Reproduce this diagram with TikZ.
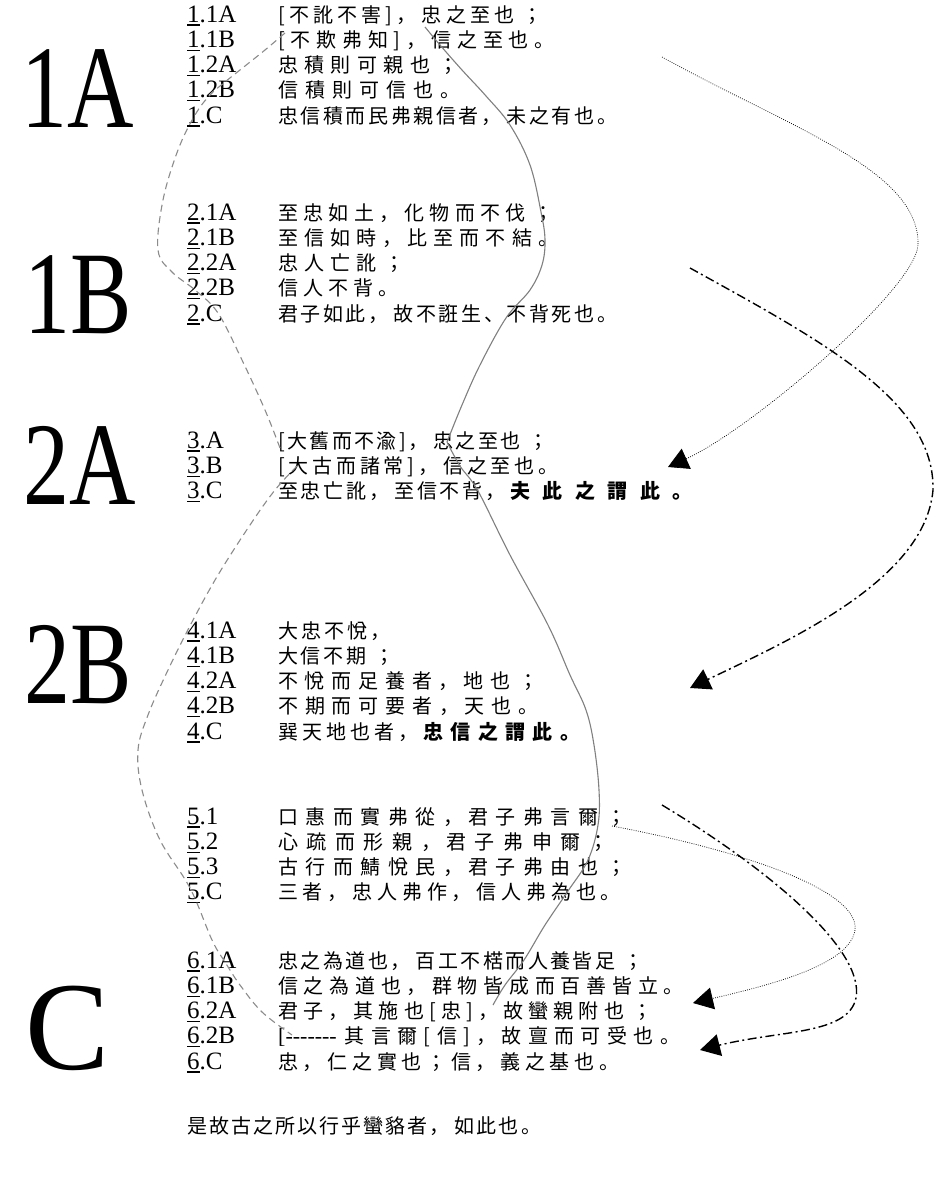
\documentclass[tikz,border=0pt]{standalone}
\usepackage{fontspec}
\setmainfont{Liberation Serif}
\newfontfamily\cjk{Noto Sans CJK JP}
\usetikzlibrary{arrows.meta}
\newcommand\unum[1]{\sbox0{#1}\rlap{\rule[-3.5pt]{\wd0}{1.3pt}}\usebox0}
\newcommand\hl[2]{{\bfseries\addfontfeatures{LetterSpace=#1}#2}}
\newcommand\cm{，\hspace{5pt}}
\newcommand\sm{\hspace{8pt}；}
\begin{document}
\begin{tikzpicture}[x=1pt,y=1pt,
  lab/.style={anchor=base west, inner sep=0pt, font=\fontsize{25}{27}\selectfont},
  txt/.style={anchor=base west, inner sep=0pt, font={\cjk\fontsize{20}{22}\selectfont\addfontfeatures{LetterSpace=#1}}},
  big/.style={inner sep=0pt, font=\fontsize{118}{118}\selectfont},
  solidg/.style={draw=black!50, line width=1.1pt},
  dashg/.style={draw=black!45, line width=1.1pt, dash pattern=on 7pt off 4.5pt},
  dotarr/.style={line width=0.7pt, dash pattern=on 0.8pt off 1.4pt, -{Triangle[length=20pt,width=22pt]}},
  dasharr/.style={line width=1.4pt, dash pattern=on 9pt off 3.5pt on 2pt off 3.5pt, -{Triangle[length=20pt,width=22pt]}}]
\fill[white] (0,0) rectangle (934,-1186);
\useasboundingbox (0,0) rectangle (934,-1186);

% big section labels
\node[big] (b1a) at (78,-89) {\scalebox{0.78}[1]{1A}};
\node[big] (b1b) at (78,-295) {\scalebox{0.78}[1]{1B}};
\node[big] (b2a) at (80,-465) {\scalebox{0.78}[1]{2A}};
\node[big] (b2b) at (78,-665) {\scalebox{0.78}[1]{2B}};
\node[big, font=\fontsize{126}{126}\selectfont] (bc) at (68,-1028) {C};

% group 1
\node[lab] (l11a) at (187,-22) {\unum{1}.1A};
\node[txt=21] (t11a) at (278,-22) {[不訛不害]\cm 忠之至也\sm};
\node[lab] (l11b) at (187,-47.3) {\unum{1}.1B};
\node[txt=29] (t11b) at (278,-47.3) {[不欺弗知]\cm 信之至也。};
\node[lab] (l12a) at (187,-72.6) {\unum{1}.2A};
\node[txt=32] (t12a) at (278,-72.6) {忠積則可親也\sm};
\node[lab] (l12b) at (187,-97.9) {\unum{1}.2B};
\node[txt=35] (t12b) at (278,-97.9) {信積則可信也。};
\node[lab] (l1c) at (187,-123.2) {\unum{1}.C};
\node[txt=13] (t1c) at (278,-123.2) {忠信積而民弗親信者\cm 未之有也。};

% group 2
\node[lab] (l21a) at (187,-220) {\unum{2}.1A};
\node[txt=26.6] (t21a) at (278,-220) {至忠如土\cm 化物而不伐\sm};
\node[lab] (l21b) at (187,-245.3) {\unum{2}.1B};
\node[txt=30.5] (t21b) at (278,-245.3) {至信如時\cm 比至而不結。};
\node[lab] (l22a) at (187,-270.6) {\unum{2}.2A};
\node[txt=30] (t22a) at (278,-270.6) {忠人亡訛\sm};
\node[lab] (l22b) at (187,-295.9) {\unum{2}.2B};
\node[txt=25] (t22b) at (278,-295.9) {信人不背。};
\node[lab] (l2c) at (187,-321.2) {\unum{2}.C};
\node[txt=13] (t2c) at (278,-321.2) {君子如此\cm 故不誑生、不背死也。};

% group 3
\node[lab] (l3a) at (187,-448) {\unum{3}.A};
\node[txt=12] (t3a) at (278,-448) {[大舊而不渝]\cm 忠之至也\sm};
\node[lab] (l3b) at (187,-473.3) {\unum{3}.B};
\node[txt=19] (t3b) at (278,-473.3) {[大古而諸常]\cm 信之至也。};
\node[lab] (l3c) at (187,-498.6) {\unum{3}.C};
\node[txt=14] (t3c) at (278,-498.6) {至忠亡訛\cm 至信不背\cm\hl{62}{夫此之謂此。}};

% group 4
\node[lab] (l41a) at (187,-638) {\unum{4}.1A};
\node[txt=15] (t41a) at (278,-638) {大忠不悅，};
\node[lab] (l41b) at (187,-663.3) {\unum{4}.1B};
\node[txt=14] (t41b) at (278,-663.3) {大信不期\sm};
\node[lab] (l42a) at (187,-688.6) {\unum{4}.2A};
\node[txt=34] (t42a) at (278,-688.6) {不悅而足養者\cm 地也\sm};
\node[lab] (l42b) at (187,-713.9) {\unum{4}.2B};
\node[txt=34.5] (t42b) at (278,-713.9) {不期而可要者\cm 天也。};
\node[lab] (l4c) at (187,-739.2) {\unum{4}.C};
\node[txt=20] (t4c) at (278,-739.2) {巽天地也者\cm\hl{37}{忠信之謂此。}};

% group 5
\node[lab] (l51) at (187,-824) {\unum{5}.1};
\node[txt=37.6] (t51) at (278,-824) {口惠而實弗從\cm 君子弗言爾\sm};
\node[lab] (l52) at (187,-849.3) {\unum{5}.2};
\node[txt=43] (t52) at (278,-849.3) {心疏而形親\cm 君子弗申爾\sm};
\node[lab] (l53) at (187,-874.6) {\unum{5}.3};
\node[txt=37.6] (t53) at (278,-874.6) {古行而鯖悅民\cm 君子弗由也\sm};
\node[lab] (l5c) at (187,-899.9) {\unum{5}.C};
\node[txt=24] (t5c) at (278,-899.9) {三者\cm 忠人弗作\cm 信人弗為也。};

% group 6
\node[lab] (l61a) at (187,-968) {\unum{6}.1A};
\node[txt=12.4] (t61a) at (278,-968) {忠之為道也\cm 百工不楛而人養皆足\sm};
\node[lab] (l61b) at (187,-993.3) {\unum{6}.1B};
\node[txt=28.8] (t61b) at (278,-993.3) {信之為道也\cm 群物皆成而百善皆立。};
\node[lab] (l62a) at (187,-1018.6) {\unum{6}.2A};
\node[txt=26] (t62a) at (278,-1018.6) {君子\cm 其施也[忠]\cm 故蠻親附也\sm};
\node[lab] (l62b) at (187,-1043.9) {\unum{6}.2B};
\node[txt=32] (t62b) at (278,-1043.9) {{\rmfamily\fontsize{22}{24}\selectfont[{-}{-}{-}{-}{-}{-}{-}}\hspace{8pt}其言爾[信]\cm 故亶而可受也。};
\node[lab] (l6c) at (187,-1069.2) {\unum{6}.C};
\node[txt=23.5] (t6c) at (278,-1069.2) {忠，仁之實也；信，義之基也。};

\node[txt=10.3] (fin) at (187,-1133) {是故古之所以行乎蠻貉者\cm 如此也。};

% gray solid wave
\draw[solidg] plot[smooth, tension=0.6] coordinates {
 (425,-27) (440,-45) (462,-70) (486,-96) (510,-125) (530,-165) (541,-212)
 (545,-240) (542,-265) (530,-290) (506,-318) (480,-365) (462,-405) (447,-442)};
\draw[solidg] plot[smooth, tension=0.6] coordinates {
 (447,-442) (460,-466) (478,-491) (510,-555) (548,-625) (570,-675) (586,-710)
 (594,-745) (599,-790) (598,-825) (588,-860) (568,-891) (545,-925) (524,-960)
 (505,-985) (493,-1005)};

% gray dashed waves
\draw[dashg] plot[smooth, tension=0.6] coordinates {
 (285,-33) (265,-50) (245,-66) (225,-82) (210,-95) (195,-115) (178,-150)
 (163,-200) (158,-250) (172,-272) (195,-290) (218,-313) (242,-360) (265,-410) (280,-448)};
\draw[dashg] plot[smooth, tension=0.6] coordinates {
 (297,-466) (275,-490) (250,-525) (218,-575) (192,-622) (168,-670) (148,-715)
 (138,-750) (142,-790) (160,-840) (190,-888) (212,-940) (225,-962) (240,-985)
 (262,-1012) (292,-1035)};

% black arrows
\coordinate (a1s) at (662,-57);
\coordinate (a1e) at (668,-467);
\draw[dotarr] (a1s) .. controls (790,-128) and (920,-170) .. (918,-245)
  .. controls (915,-290) and (750,-430) .. (a1e);
\coordinate (a2s) at (690,-268);
\coordinate (a2e) at (690,-688);
\draw[dasharr] (a2s) .. controls (820,-340) and (935,-400) .. (933,-490)
  .. controls (925,-580) and (790,-640) .. (a2e);
\coordinate (a3s) at (662,-805);
\coordinate (a3e) at (700,-1050);
\draw[dasharr] (a3s) .. controls (770,-870) and (865,-950) .. (856,-998)
  .. controls (848,-1035) and (780,-1030) .. (a3e);
\coordinate (a4s) at (612,-826);
\coordinate (a4e) at (693,-1003);
\draw[dotarr] (a4s) .. controls (740,-850) and (860,-890) .. (855,-930)
  .. controls (850,-965) and (770,-985) .. (a4e);
\end{tikzpicture}
\end{document}
